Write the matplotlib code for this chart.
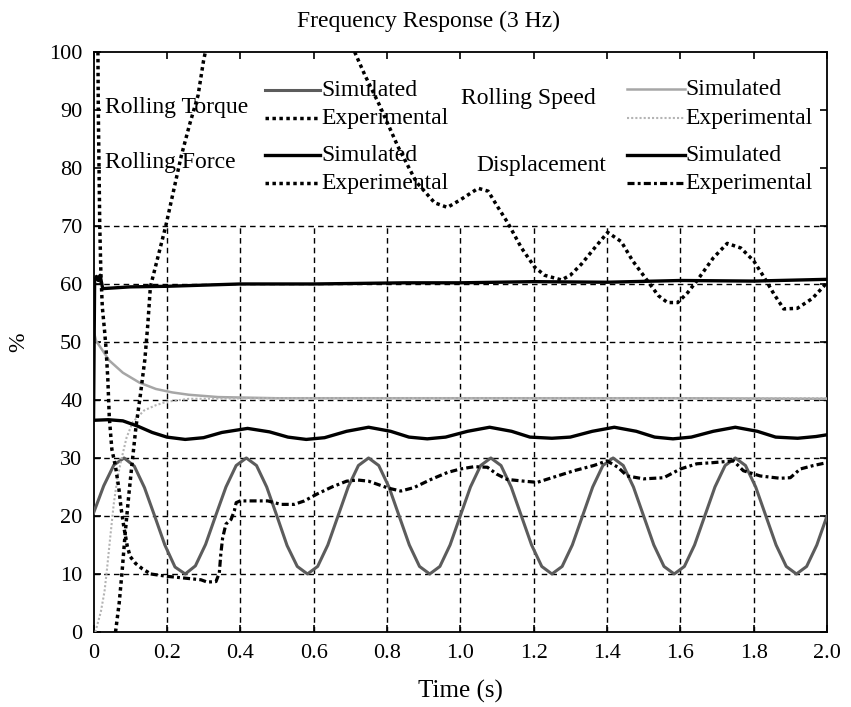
import numpy as np
import matplotlib
matplotlib.use("Agg")
import matplotlib.pyplot as plt
from matplotlib.lines import Line2D

# ---------------- data (percent of nominal) ----------------
# Rolling torque, simulated: sampled every 1/36 s over 0..2 s
torque_sim_t = np.linspace(0.0, 2.0, 73)
torque_sim = [
    20.5, 25.2, 28.8, 30.0, 28.6, 24.9, 20.0, 15.0, 11.2, 10.0, 11.4, 15.1,
    20.1, 25.0, 28.7, 30.0, 28.7, 25.0, 20.0, 14.9, 11.3, 10.0, 11.3, 15.0,
    20.0, 25.0, 28.7, 30.0, 28.7, 25.0, 20.0, 15.0, 11.3, 10.0, 11.3, 15.0,
    20.0, 25.0, 28.7, 30.0, 28.7, 25.0, 20.0, 15.0, 11.3, 10.0, 11.3, 15.0,
    20.0, 25.0, 28.7, 30.0, 28.7, 25.0, 20.0, 15.0, 11.3, 10.0, 11.3, 15.0,
    20.0, 25.0, 28.7, 30.0, 28.7, 25.0, 20.0, 15.0, 11.3, 10.0, 11.3, 15.0,
    20.0,
]

# Rolling torque, experimental
torque_exp_t = [0.012, 0.013, 0.015, 0.017, 0.020, 0.024, 0.030, 0.034, 0.039,
                0.043, 0.050, 0.060, 0.069, 0.075, 0.083, 0.092, 0.100, 0.115,
                0.133, 0.156]
torque_exp = [100, 90, 80, 70, 62, 56, 52, 49, 43.6,
              37, 31.5, 28.5, 24.8, 21.4, 18, 14.8, 13, 11.8,
              10.9, 10.0]

# Rolling speed, simulated
speed_sim_t = [0.0, 0.007, 0.043, 0.08, 0.125, 0.17, 0.215, 0.26, 0.34, 0.5,
               0.8, 1.2, 1.6, 2.0]
speed_sim = [52, 50.2, 46.8, 44.7, 43.0, 41.9, 41.3, 40.9, 40.5, 40.3,
             40.3, 40.3, 40.3, 40.2]

# Rolling speed, experimental
speed_exp_t = [0.005, 0.02, 0.03, 0.037, 0.045, 0.055, 0.065, 0.075, 0.09,
               0.107, 0.138, 0.17, 0.2, 0.26, 0.5, 1.0, 1.5, 2.0]
speed_exp = [0, 3.5, 7, 11, 16, 22, 26.5, 29.5, 33.5,
             36.2, 38.2, 39.1, 39.7, 40.2, 40.3, 40.3, 40.3, 40.3]

# Rolling force, simulated
force_sim_t = [0.0, 0.003, 0.008, 0.013, 0.018, 0.025, 0.05, 0.1, 0.2, 0.3,
               0.4, 0.6, 0.85, 1.0, 1.2, 1.4, 1.6, 1.8, 2.0]
force_sim = [36.5, 60.5, 61.3, 60.6, 61.5, 59.2, 59.3, 59.5, 59.6, 59.8,
             60.0, 60.0, 60.2, 60.2, 60.4, 60.3, 60.6, 60.5, 60.8]

# Rolling force, experimental (leaves the 0-100 % window between ~0.3 s and ~0.71 s)
force_exp_t = [0.06, 0.07, 0.078, 0.087, 0.096, 0.105, 0.116, 0.128, 0.14,
               0.148, 0.155, 0.175, 0.197, 0.218, 0.239, 0.262, 0.285, 0.30,
               0.305, 0.5,
               0.712, 0.74, 0.78, 0.83, 0.88, 0.93, 0.965, 1.0, 1.049, 1.076,
               1.1, 1.13, 1.167, 1.203, 1.23, 1.276, 1.3, 1.33, 1.37, 1.402,
               1.439, 1.47, 1.511, 1.54, 1.565, 1.593, 1.62, 1.647, 1.69,
               1.728, 1.765, 1.8, 1.828, 1.855, 1.882, 1.919, 1.96, 1.991, 2.0]
force_exp = [0, 5, 10.5, 17.5, 23.5, 29, 35.5, 41, 47,
             53, 59.5, 64.5, 70, 76, 82, 87.5, 92.5, 98.5,
             100, np.nan,
             100, 96, 90.8, 83.7, 77.6, 74.0, 73.2, 74.5, 76.5, 76.0,
             73.5, 70.5, 66.2, 62.9, 61.5, 60.7, 61.5, 63.4, 66.5, 68.9,
             67.3, 64.0, 60.5, 58.0, 56.8, 56.8, 58.5, 60.7, 64.5,
             67.0, 66.2, 64.0, 61.2, 58.3, 55.7, 55.8, 57.5, 59.6, 60.3]

# Displacement, simulated
disp_sim_t = [0.0, 0.04, 0.08, 0.12, 0.16, 0.2, 0.25, 0.3, 0.35, 0.42, 0.48,
              0.53, 0.58, 0.63, 0.69, 0.75, 0.81, 0.86, 0.91, 0.96, 1.02,
              1.08, 1.14, 1.19, 1.25, 1.3, 1.36, 1.42, 1.48, 1.53, 1.58,
              1.63, 1.69, 1.75, 1.81, 1.86, 1.92, 1.97, 2.0]
disp_sim = [36.5, 36.6, 36.4, 35.5, 34.4, 33.6, 33.2, 33.5, 34.4, 35.1, 34.5,
            33.6, 33.2, 33.5, 34.6, 35.3, 34.6, 33.6, 33.3, 33.6, 34.6,
            35.3, 34.6, 33.6, 33.4, 33.6, 34.6, 35.3, 34.6, 33.6, 33.3,
            33.6, 34.6, 35.3, 34.6, 33.6, 33.4, 33.7, 34.0]

# Displacement, experimental
disp_exp_t = [0.156, 0.2, 0.247, 0.293, 0.31, 0.334, 0.343, 0.347, 0.352,
              0.361, 0.375, 0.384, 0.389, 0.4, 0.44, 0.475, 0.511, 0.547,
              0.575, 0.61, 0.65, 0.69, 0.72, 0.75, 0.777, 0.804, 0.838, 0.874,
              0.92, 0.965, 1.0, 1.038, 1.074, 1.1, 1.128, 1.174, 1.21, 1.255,
              1.31, 1.364, 1.4, 1.43, 1.455, 1.5, 1.555, 1.582, 1.6, 1.645,
              1.69, 1.745, 1.772, 1.818, 1.872, 1.9, 1.927, 1.963, 2.0]
disp_exp = [10.0, 9.6, 9.3, 9.0, 8.6, 8.7, 10.2, 13.4, 16.2,
            18.6, 19.4, 20.9, 22.3, 22.6, 22.6, 22.6, 22.0, 22.0,
            22.6, 23.8, 25.0, 26.0, 26.2, 26.0, 25.4, 24.8, 24.3, 24.9,
            26.3, 27.5, 28.1, 28.5, 28.4, 27.2, 26.3, 26.0, 25.8, 26.7,
            27.8, 28.7, 29.5, 28.4, 26.9, 26.4, 26.6, 27.5, 28.1, 29.0,
            29.2, 29.5, 27.8, 26.9, 26.5, 26.6, 28.1, 28.7, 29.2]

x_ticks = [0.0, 0.2, 0.4, 0.6, 0.8, 1.0, 1.2, 1.4, 1.6, 1.8, 2.0]
x_tick_labels = ["0", "0.2", "0.4", "0.6", "0.8", "1.0", "1.2", "1.4", "1.6", "1.8", "2.0"]
y_ticks = [0, 10, 20, 30, 40, 50, 60, 70, 80, 90, 100]

# ---------------- styles ----------------
SERIF = ["Liberation Serif", "DejaVu Serif"]
DOT = (0, (1, 1))
DASHDOT = (0, (2.2, 1.0, 0.9, 1.0))

styles = {
    "torque_sim": dict(color="#5c5c5c", lw=2.2, ls="-"),
    "torque_exp": dict(color="black", lw=2.5, ls=DOT),
    "speed_sim": dict(color="#a6a6a6", lw=1.8, ls="-"),
    "speed_exp": dict(color="#b4b4b4", lw=1.5, ls=DOT),
    "force_sim": dict(color="black", lw=2.4, ls="-"),
    "force_exp": dict(color="black", lw=2.5, ls=DOT),
    "disp_sim": dict(color="black", lw=2.4, ls="-"),
    "disp_exp": dict(color="black", lw=2.3, ls=DASHDOT),
}

fig = plt.figure(figsize=(8.51, 7.07), dpi=100)
ax = fig.add_axes([0.1099, 0.1061, 0.8619, 0.8204])

# grid: dashed black, kept below the legend band
grid_kw = dict(colors="black", linestyles=(0, (4, 3)), linewidth=1.0, zorder=0.8)
ax.hlines(y_ticks[1:8], 0.0, 2.0, **grid_kw)
ax.vlines(x_ticks[1:-1], 0, 70, **grid_kw)

ax.plot(torque_sim_t, torque_sim, **styles["torque_sim"], zorder=3)
ax.plot(speed_sim_t, speed_sim, **styles["speed_sim"], zorder=3)
ax.plot(speed_exp_t, speed_exp, **styles["speed_exp"], zorder=3)
ax.plot(disp_sim_t, disp_sim, **styles["disp_sim"], zorder=4)
ax.plot(force_sim_t, force_sim, **styles["force_sim"], zorder=4)
ax.plot(torque_exp_t, torque_exp, **styles["torque_exp"], zorder=4)
ax.plot(disp_exp_t, disp_exp, **styles["disp_exp"], zorder=4)
ax.plot(force_exp_t, force_exp, **styles["force_exp"], zorder=4)

ax.set_xlim(0, 2.0)
ax.set_ylim(0, 100)
ax.set_xticks(x_ticks)
ax.set_xticklabels(x_tick_labels)
ax.set_yticks(y_ticks)
ax.tick_params(direction="in", length=5, width=1.2, top=True, right=True,
               labelsize=16)
ax.tick_params(axis="x", pad=9)
ax.tick_params(axis="y", pad=8)
for lab in ax.get_xticklabels() + ax.get_yticklabels():
    lab.set_family(SERIF)
for sp in ax.spines.values():
    sp.set_linewidth(1.3)

ax.text(0.457, 1.0 + 31 / 580, "Frequency Response (3 Hz)", family=SERIF,
        fontsize=17, ha="center", va="center", transform=ax.transAxes)
ax.set_xlabel("Time (s)", family=SERIF, fontsize=18, labelpad=12)
ax.set_ylabel("%", family=SERIF, fontsize=17)
ax.yaxis.set_label_coords(-0.087, 0.5)

# ---------------- in-plot legend ----------------
txt_kw = dict(family=SERIF, fontsize=17, va="center", ha="left", zorder=6)
ax.text(0.031, 90.5, "Rolling Torque", **txt_kw)
ax.text(0.031, 80.9, "Rolling Force", **txt_kw)
ax.text(1.003, 92.0, "Rolling Speed", **txt_kw)
ax.text(1.044, 80.5, "Displacement", **txt_kw)

legend_rows = [
    # (x0, x1, y, style, label)
    (0.467, 0.617, 93.4, "torque_sim", "Simulated"),
    (0.467, 0.617, 88.6, "torque_exp", "Experimental"),
    (0.467, 0.617, 82.2, "force_sim", "Simulated"),
    (0.467, 0.617, 77.4, "force_exp", "Experimental"),
    (1.456, 1.612, 93.6, "speed_sim", "Simulated"),
    (1.456, 1.612, 88.6, "speed_exp", "Experimental"),
    (1.456, 1.612, 82.2, "disp_sim", "Simulated"),
    (1.456, 1.612, 77.4, "disp_exp", "Experimental"),
]
for x0, x1, y, key, label in legend_rows:
    ax.add_line(Line2D([x0, x1], [y, y], **styles[key], zorder=6))
    ax.text(x1 + 0.003, y, label, **txt_kw)

fig.savefig("out.png", dpi=100)
